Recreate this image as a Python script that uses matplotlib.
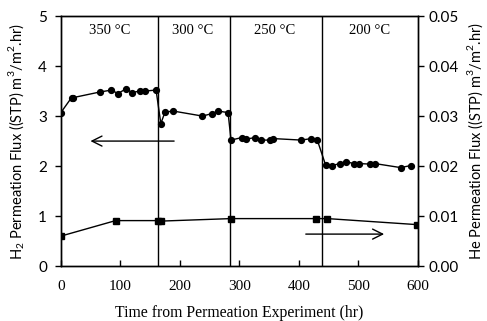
import matplotlib
matplotlib.use("Agg")
import matplotlib.pyplot as plt

plt.rcParams['font.family'] = ['Liberation Serif', 'DejaVu Serif']
plt.rcParams['mathtext.fontset'] = 'custom'
plt.rcParams['mathtext.rm'] = 'Lato'

h2_time = [0, 18, 21, 65, 85, 96, 110, 119, 133, 141, 160,
           168, 175, 189, 238, 254, 264, 281,
           286, 304, 312, 326, 337, 351, 357, 404, 421, 431,
           445, 455, 469, 479, 492, 501, 520, 528, 571, 588]
h2_flux = [3.07, 3.37, 3.37, 3.48, 3.52, 3.45, 3.55, 3.47, 3.50, 3.50, 3.52,
           2.85, 3.08, 3.10, 3.00, 3.05, 3.10, 3.07,
           2.52, 2.57, 2.54, 2.57, 2.52, 2.52, 2.55, 2.52, 2.55, 2.52,
           2.02, 2.01, 2.05, 2.09, 2.05, 2.05, 2.04, 2.05, 1.97, 2.01]

he_time = [0, 92, 164, 168, 286, 429, 448, 598]
he_flux = [0.0060, 0.0091, 0.0091, 0.0090, 0.0095, 0.0095, 0.0095, 0.0083]

boundaries = [163, 284, 439]
temp_labels = ["350 °C", "300 °C", "250 °C", "200 °C"]
temp_label_x = [82, 222, 360, 519]

sans = ['Lato', 'DejaVu Sans']

fig = plt.figure(figsize=(4.87, 3.21), dpi=100)
ax = fig.add_axes([0.125, 0.171, 0.733, 0.779])
ax2 = ax.twinx()

ax.plot(h2_time, h2_flux, color='black', lw=1.0, marker='o', ms=4.2, zorder=3)
ax2.plot(he_time, he_flux, color='black', lw=1.0, marker='s', ms=4.2, zorder=3)

for b in boundaries:
    ax.axvline(b, color='black', lw=1.0)

for lbl, x in zip(temp_labels, temp_label_x):
    ax.text(x, 4.72, lbl, ha='center', va='center', fontsize=10.5)

ax.annotate('', xy=(45, 2.5), xytext=(195, 2.5),
            arrowprops=dict(arrowstyle='->', color='black', lw=1.0,
                            mutation_scale=18))
ax.annotate('', xy=(548, 0.64), xytext=(407, 0.64),
            arrowprops=dict(arrowstyle='->', color='black', lw=1.0,
                            mutation_scale=18))

ax.set_xlim(0, 600)
ax.set_ylim(0, 5)
ax2.set_ylim(0, 0.05)
ax.set_xticks([0, 100, 200, 300, 400, 500, 600])
ax.set_yticks([0, 1, 2, 3, 4, 5])
ax2.set_yticks([0, 0.01, 0.02, 0.03, 0.04, 0.05])
ax2.set_yticklabels(["0.00", "0.01", "0.02", "0.03", "0.04", "0.05"])

ax.tick_params(axis='both', labelsize=11, length=4, width=1, direction='out')
ax.tick_params(axis='x', direction='in', pad=10)
ax.tick_params(axis='y', pad=6)
ax2.tick_params(axis='y', labelsize=11, length=4, width=1, direction='out')
for t in ax.get_yticklabels() + ax2.get_yticklabels():
    t.set_family(sans)

for a in (ax, ax2):
    for s in a.spines.values():
        s.set_linewidth(1.0)

ax.set_xlabel("Time from Permeation Experiment (hr)", fontsize=11.3, labelpad=9)
ax.set_ylabel("H$_2$ Permeation Flux ((STP) m$^3$/m$^2$.hr)", fontsize=10.5,
              family=sans, labelpad=8)
ax2.set_ylabel("He Permeation Flux ((STP) m$^3$/m$^2$.hr)", fontsize=10.5,
               family=sans, labelpad=5)

fig.savefig("out.png", dpi=100)
